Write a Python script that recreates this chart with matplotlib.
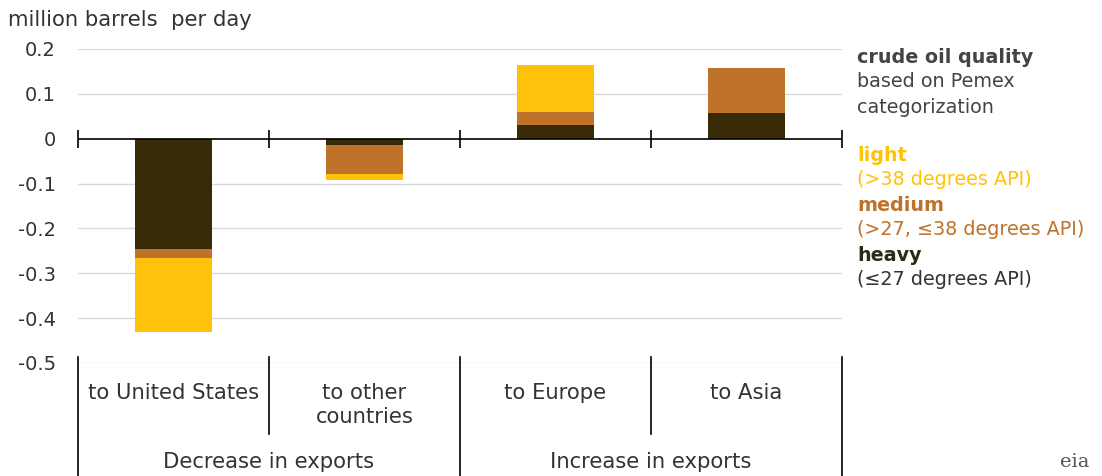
import matplotlib.pyplot as plt
import matplotlib.transforms as mtransforms
import numpy as np

plt.rcParams['font.family'] = ['DejaVu Sans']

# data (million barrels per day)
categories = ['to United States', 'to other\ncountries', 'to Europe', 'to Asia']
groups = ['Decrease in exports', 'Increase in exports']
heavy = [-0.245, -0.013, 0.030, 0.057]
medium = [-0.020, -0.065, 0.030, 0.100]
light = [-0.165, -0.015, 0.104, 0.0]

c_light = '#FFC20A'
c_medium = '#BE722A'
c_heavy = '#392A07'
grid_c = '#D9D9D9'
text_c = '#333333'
fs = 14
cfs = 15.2

fig = plt.figure(figsize=(11.02, 4.76), dpi=100)
ax = fig.add_axes([0.0708, 0.2374, 0.6932, 0.6597])

x = np.arange(len(categories))
w = 0.4
heavy = np.array(heavy)
medium = np.array(medium)
light = np.array(light)

ax.bar(x, heavy, w, color=c_heavy, zorder=3)
ax.bar(x, medium, w, bottom=heavy, color=c_medium, zorder=3)
ax.bar(x, light, w, bottom=heavy + medium, color=c_light, zorder=3)

ax.set_xlim(-0.5, 3.5)
ax.set_ylim(-0.5, 0.2)
yt = [0.2, 0.1, 0, -0.1, -0.2, -0.3, -0.4, -0.5]
ax.set_yticks(yt)
ax.set_yticklabels(['0.2', '0.1', '0', '-0.1', '-0.2', '-0.3', '-0.4', '-0.5'])
ax.tick_params(axis='y', length=0, pad=16, labelsize=fs, labelcolor=text_c)
ax.set_xticks([])
for s in ax.spines.values():
    s.set_visible(False)

# gridlines (not at zero)
for v in yt:
    if v != 0:
        ax.axhline(v, color=grid_c, lw=1, zorder=1)

# zero line with category ticks
bounds = np.arange(len(categories) + 1) - 0.5
ax.axhline(0, color='black', lw=1.2, zorder=4)
ax.plot(bounds, np.zeros_like(bounds), ls='none', marker='|', markersize=13,
        markeredgewidth=1.2, color='black', zorder=4, clip_on=False)

# category dividers and labels below the plot
trans = mtransforms.blended_transform_factory(ax.transData, ax.transAxes)
for i, b in enumerate(bounds):
    bottom = -0.225 if i in (1, 3) else -0.36
    ax.plot([b, b], [0.02, bottom], color='black', lw=1.2, transform=trans, clip_on=False)

for xi, lab in zip(x, categories):
    ax.text(xi, -0.065, lab, transform=trans, ha='center', va='top',
            fontsize=cfs, color=text_c, linespacing=1.2)
for gi, g in enumerate(groups):
    ax.text(0.5 + 2 * gi, -0.315, g, transform=trans, ha='center', va='center',
            fontsize=cfs, color=text_c)

fig.text(0.007, 0.958, 'million barrels  per day', fontsize=cfs, color=text_c,
         ha='left', va='center')

# legend text on the right
lx = 0.778
lfs = 13.8
fig.text(lx, 0.880, 'crude oil quality', fontsize=lfs, fontweight='bold', color='#444444', va='center')
fig.text(lx, 0.828, 'based on Pemex', fontsize=lfs, color='#444444', va='center')
fig.text(lx, 0.775, 'categorization', fontsize=lfs, color='#444444', va='center')
fig.text(lx, 0.674, 'light', fontsize=lfs, fontweight='bold', color=c_light, va='center')
fig.text(lx, 0.622, '(>38 degrees API)', fontsize=lfs, color=c_light, va='center')
fig.text(lx, 0.569, 'medium', fontsize=lfs, fontweight='bold', color=c_medium, va='center')
fig.text(lx, 0.517, '(>27, \u226438 degrees API)', fontsize=lfs, color=c_medium, va='center')
fig.text(lx, 0.464, 'heavy', fontsize=lfs, fontweight='bold', color='#2E2A18', va='center')
fig.text(lx, 0.412, '(\u226427 degrees API)', fontsize=lfs, color='#333333', va='center')

# eia mark
fig.text(0.975, 0.03, 'eia', fontsize=14, family='DejaVu Serif', color='#555555',
         ha='center', va='center')

fig.savefig('out.png', dpi=100)
